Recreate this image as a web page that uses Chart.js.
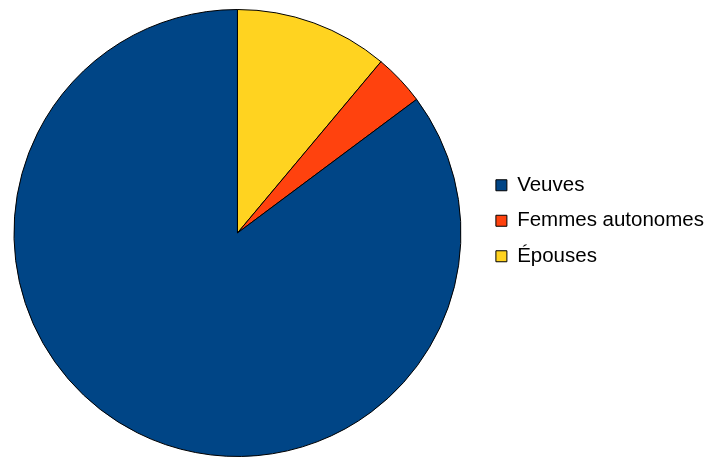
<!DOCTYPE html>
<html>
<head>
    <meta charset="utf-8">
    <title>Répartition</title>
    <script src="https://cdn.jsdelivr.net/npm/chart.js"></script>
    <style>
        body {
            margin: 0;
            background: #ffffff;
            overflow: hidden;
        }
        .chart-box {
            position: relative;
            left: -6px;
            width: 714px;
            height: 457px;
        }
    </style>
</head>
<body>

<div class="chart-box">
    <canvas id="pieChart"></canvas>
</div>

<script>
// slices listed clockwise from 12 o'clock; legend shows them reversed
const categories = ['Épouses', 'Femmes autonomes', 'Veuves'];
const shares = [11.1, 3.7, 85.2];
const sliceColors = ['#ffd320', '#ff420e', '#004586'];

const ctx = document.getElementById('pieChart');
new Chart(ctx, {
    type: 'pie',
    data: {
        labels: categories,
        datasets: [{
            data: shares,
            backgroundColor: sliceColors,
            borderColor: '#000000',
            borderWidth: 1
        }]
    },
    options: {
        responsive: true,
        maintainAspectRatio: false,
        animation: false,
        layout: {
            padding: { left: -19, top: 9, right: -6, bottom: 0 }
        },
        plugins: {
            tooltip: { enabled: false },
            legend: {
                position: 'right',
                align: 'start',
                reverse: true,
                title: {
                    display: true,
                    text: '',
                    font: { size: 10 },
                    padding: { top: 139, bottom: 0 }
                },
                labels: {
                    boxWidth: 11,
                    boxHeight: 11,
                    padding: 15,
                    color: '#000000',
                    font: { family: '"Liberation Sans", Arial, sans-serif', size: 20.5 }
                }
            }
        }
    }
});
</script>

</body>
</html>
